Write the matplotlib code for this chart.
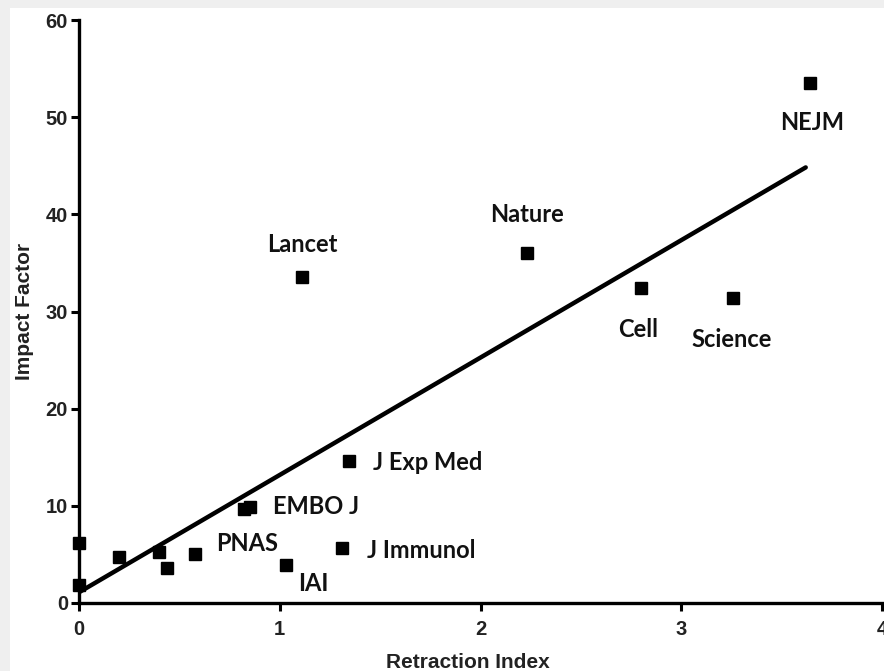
import matplotlib
matplotlib.use("Agg")
import matplotlib.pyplot as plt
from matplotlib.patches import Rectangle
import numpy as np

# Data
journals = ["", "", "", "", "", "PNAS", "", "EMBO J", "IAI", "J Immunol", "J Exp Med",
            "Lancet", "Nature", "Cell", "Science", "NEJM"]
retraction_index = [0.0, 0.0, 0.20, 0.40, 0.44, 0.58, 0.82, 0.85, 1.03, 1.31, 1.345,
                    1.11, 2.23, 2.80, 3.26, 3.64]
impact_factor = [6.2, 1.9, 4.7, 5.2, 3.6, 5.0, 9.7, 9.9, 3.9, 5.7, 14.6,
                 33.6, 36.0, 32.4, 31.4, 53.5]
fit_intercept = 1.1
fit_slope = 12.08
fit_x_end = 3.62

# label offsets in points (dx, dy, ha, va)
label_style = {
    "PNAS": (15, 8, "left", "center"),
    "EMBO J": (16.5, 0.5, "left", "center"),
    "IAI": (9, -13, "left", "center"),
    "J Immunol": (18, -2, "left", "center"),
    "J Exp Med": (17.5, -1, "left", "center"),
    "Lancet": (0, 23, "center", "center"),
    "Nature": (0, 28, "center", "center"),
    "Cell": (-2, -30, "center", "center"),
    "Science": (-1, -30, "center", "center"),
    "NEJM": (2, -28, "center", "center"),
}

fig = plt.figure(figsize=(8.84, 6.71), dpi=100)
fig.patch.set_facecolor("#efefef")
bg = Rectangle((10 / 884, 0), 1, 1 - 8 / 671, transform=fig.transFigure,
               facecolor="white", edgecolor="none", zorder=-10)
fig.add_artist(bg)

ax = fig.add_axes([79 / 884, 1 - 603 / 671, (882 - 79) / 884, (603 - 20) / 671])
ax.set_facecolor("none")

ax.plot(retraction_index, impact_factor, "s", color="black", ms=9, zorder=3, clip_on=False)
xf = np.array([0.0, fit_x_end])
ax.plot(xf, fit_intercept + fit_slope * xf, color="black", lw=3.2, solid_capstyle="round", zorder=2)

for name, x, y in zip(journals, retraction_index, impact_factor):
    if name:
        dx, dy, ha, va = label_style[name]
        ax.annotate(name, (x, y), xytext=(dx, dy), textcoords="offset points",
                    ha=ha, va=va, fontsize=17, fontweight="bold", family="Lato",
                    color="#111111")

ax.set_xlim(0, 4)
ax.set_ylim(0, 60)
ax.set_xticks([0, 1, 2, 3, 4])
ax.set_yticks([0, 10, 20, 30, 40, 50, 60])
for s in ["top", "right"]:
    ax.spines[s].set_visible(False)
for s in ["left", "bottom"]:
    ax.spines[s].set_linewidth(2.4)
ax.tick_params(direction="out", length=6, width=2.2)
ax.tick_params(axis="x", pad=6)
ax.tick_params(axis="y", pad=2)
for lab in ax.get_xticklabels() + ax.get_yticklabels():
    lab.set_fontfamily("Liberation Sans")
    lab.set_fontweight("bold")
    lab.set_fontsize(14.5)
    lab.set_color("#222222")

ax.set_xlabel("Retraction Index", fontsize=15, fontweight="bold", family="Liberation Sans",
              labelpad=10, color="#222222")
ax.xaxis.label.set_x(0.484)
ax.set_ylabel("Impact Factor", fontsize=15, fontweight="bold", family="Liberation Sans",
              labelpad=8, color="#222222")

fig.savefig("out.png", dpi=100, facecolor=fig.get_facecolor())
